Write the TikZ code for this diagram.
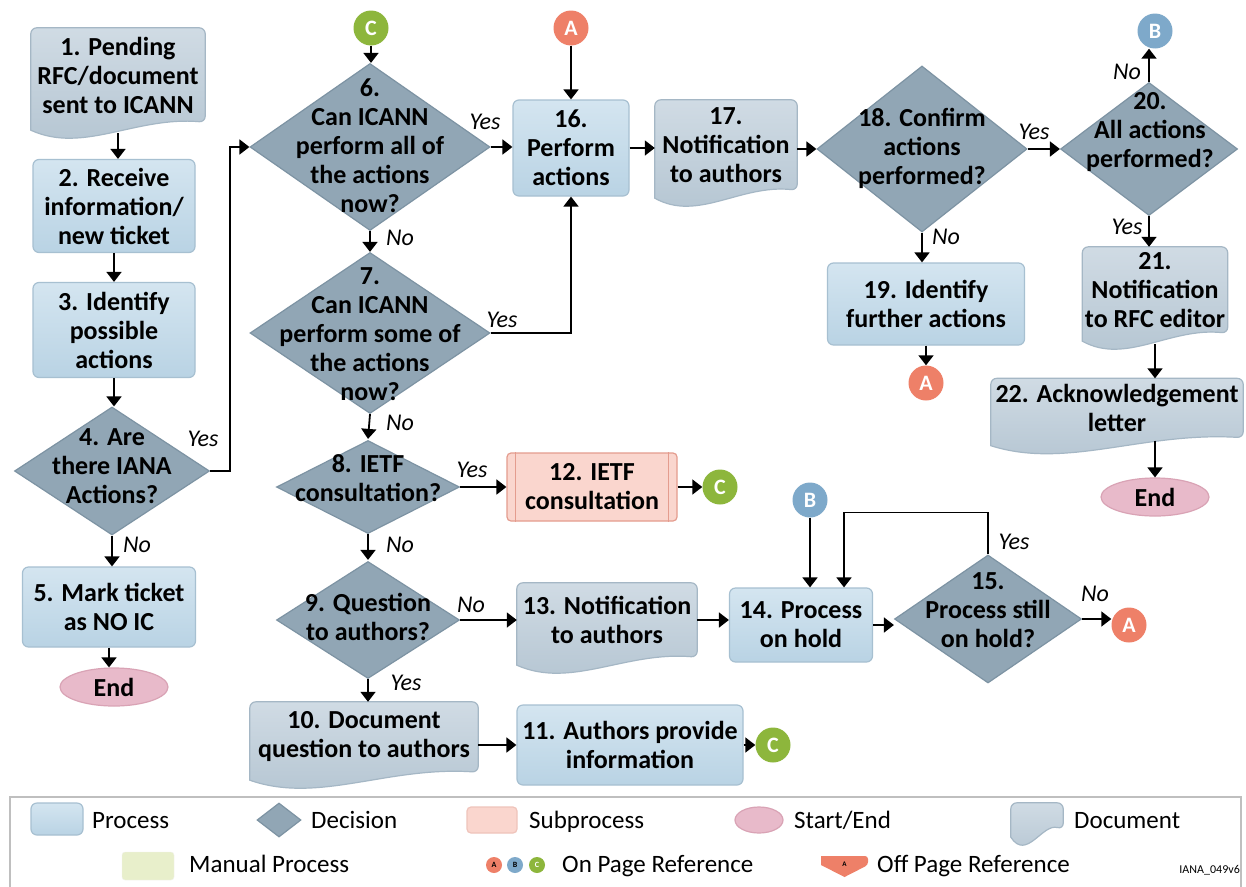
\documentclass[tikz,border=0pt]{standalone}
\usepackage{fontspec}
\setmainfont{Carlito}
\usetikzlibrary{shapes.geometric,arrows.meta,calc}
\pgfdeclarelayer{back}
\pgfdeclarelayer{docs}
\pgfsetlayers{back,docs,main}
\definecolor{procTop}{HTML}{D4E5F0}
\definecolor{procBot}{HTML}{B9D3E4}
\definecolor{procBd}{HTML}{A7C0D1}
\definecolor{decFill}{HTML}{91A6B5}
\definecolor{decBd}{HTML}{7D93A3}
\definecolor{docTop}{HTML}{D0DBE4}
\definecolor{docBot}{HTML}{B3C4D1}
\definecolor{docBd}{HTML}{A5B7C5}
\definecolor{subFill}{HTML}{FAD6CE}
\definecolor{subBd}{HTML}{E49C8E}
\definecolor{endFill}{HTML}{E8BACA}
\definecolor{endBd}{HTML}{D9A3B5}
\definecolor{refA}{HTML}{EE8068}
\definecolor{refB}{HTML}{7EA9CA}
\definecolor{refC}{HTML}{8DB63C}
\definecolor{manFill}{HTML}{E8EFCB}
\tikzset{
  base/.style={font=\fontsize{26}{29}\selectfont\bfseries, align=center, text=black},
  proc/.style={base, rectangle, rounded corners=6pt, draw=procBd, line width=1.2pt, top color=procTop, bottom color=procBot, inner sep=2pt},
  doctext/.style={base, rectangle, inner sep=0pt},
  docshp/.style={draw=docBd, line width=1.2pt, top color=docTop, bottom color=docBot},
  dec/.style={diamond, draw=decBd, line width=1.2pt, fill=decFill, inner sep=0pt},
  dtext/.style={base, inner sep=0pt},
  subp/.style={base, rectangle, rounded corners=4pt, draw=subBd, line width=1.2pt, fill=subFill, inner sep=2pt},
  term/.style={base, ellipse, draw=endBd, line width=1.2pt, fill=endFill, inner sep=0pt},
  refnode/.style={circle, inner sep=0pt, minimum size=35pt, text=white, font=\fontsize{22}{22}\selectfont\bfseries},
  lab/.style={font=\fontsize{24}{24}\selectfont\itshape, inner sep=0pt},
  arr/.style={line width=1.8pt, -{Triangle[width=15pt,length=10pt]}},
  legt/.style={font=\fontsize{25}{25}\selectfont, anchor=base west, inner sep=0pt},
}
\newcommand\docshape[1]{%
  \begin{pgfonlayer}{docs}
  \path[docshp] let \p1=(#1.north west), \p2=(#1.south east) in
    (\x1,\y2-8pt) [rounded corners=6pt] -- (\x1,\y1) -- (\x2,\y1) -- (\x2,\y2) [sharp corners]
    .. controls ({\x1+0.6*(\x2-\x1)},\y2+6pt) and ({\x1+0.3*(\x2-\x1)},\y2-32pt) .. (\x1,\y2-8pt) -- cycle;
  \end{pgfonlayer}}
\begin{document}
\begin{tikzpicture}[x=1pt,y=-1pt]
\useasboundingbox (0,0) rectangle (1246,886);
\begin{pgfonlayer}{back}
\fill[white] (0,0) rectangle (1246,886);
\end{pgfonlayer}

% ---------- column 1
\node[doctext, minimum width=174pt, minimum height=94pt] (n1) at (118,75) {1. Pending\\RFC/document\\sent to ICANN};
\docshape{n1}
\node[proc, minimum width=162pt, minimum height=93pt] (n2) at (114,206) {2. Receive\\information/\\new ticket};
\node[proc, minimum width=162pt, minimum height=95pt] (n3) at (114,330) {3. Identify\\possible\\actions};
\node[dec, minimum width=195pt, minimum height=128pt] (q4) at (112,471) {};
\node[dtext] (t4) at (112,466) {4. Are\\there IANA\\Actions?};
\node[proc, minimum width=173pt, minimum height=80pt] (n5) at (109,607) {5. Mark ticket\\as NO IC};
\node[term, minimum width=108pt, minimum height=38pt] (e1) at (114,687) {End};

% ---------- column 2
\node[refnode, fill=refC] (c1) at (371,28) {C};
\node[dec, minimum width=240pt, minimum height=167pt] (q6) at (370,147) {};
\node[dtext] (t6) at (370,146) {6.\\Can ICANN\\perform all of\\the actions\\now?};
\node[dec, minimum width=240pt, minimum height=161pt] (q7) at (370,333) {};
\node[dtext] (t7) at (370,334) {7.\\Can ICANN\\perform some of\\the actions\\now?};
\node[dec, minimum width=183pt, minimum height=93pt] (q8) at (368,487) {};
\node[dtext] (t8) at (368,478) {8. IETF\\consultation?};
\node[dec, minimum width=183pt, minimum height=117pt] (q9) at (368,620) {};
\node[dtext] (t9) at (368,617) {9. Question\\to authors?};
\node[doctext, minimum width=228pt, minimum height=70pt] (n10) at (364,737) {10. Document\\question to authors};
\docshape{n10}

% ---------- column 3
\node[refnode, fill=refA] (a1) at (571,28) {A};
\node[proc, minimum width=116pt, minimum height=96pt] (n16) at (571,148) {16.\\Perform\\actions};
\node[subp, minimum width=170pt, minimum height=68pt] (n12) at (592,487) {12. IETF\\consultation};
\draw[subBd, line width=1pt] ([xshift=9pt]n12.north west) -- ([xshift=9pt]n12.south west);
\draw[subBd, line width=1pt] ([xshift=-9pt]n12.north east) -- ([xshift=-9pt]n12.south east);
\node[refnode, fill=refC] (c2) at (720,487) {C};
\node[doctext, minimum width=180pt, minimum height=74pt] (n13) at (607,620) {13. Notification\\to authors};
\docshape{n13}
\node[proc, minimum width=226pt, minimum height=80pt] (n11) at (630,745) {11. Authors provide\\information};
\node[refnode, fill=refC] (c3) at (773,745) {C};

% ---------- column 4
\node[doctext, minimum width=142pt, minimum height=90pt] (n17) at (726,145) {17.\\Notification\\to authors};
\docshape{n17}
\node[refnode, fill=refB] (b2) at (810,500) {B};
\node[proc, minimum width=143pt, minimum height=74pt] (n14) at (801,625) {14. Process\\on hold};
\node[dec, minimum width=187pt, minimum height=128pt] (q15) at (988,619) {};
\node[dtext] (t15) at (988,610) {15.\\Process still\\on hold?};
\node[refnode, fill=refA] (a3) at (1129,625) {A};
\node[dec, minimum width=210pt, minimum height=166pt] (q18) at (922,149) {};
\node[dtext] (t18) at (922,148) {18. Confirm\\actions\\performed?};
\node[proc, minimum width=197pt, minimum height=82pt] (n19) at (926,304) {19. Identify\\further actions};
\node[refnode, fill=refA] (a2) at (926,383) {A};

% ---------- column 5
\node[refnode, fill=refB] (b1) at (1155,31) {B};
\node[dec, minimum width=177pt, minimum height=133pt] (q20) at (1149,149) {};
\node[dtext] (t20) at (1150,132) {20.\\All actions\\performed?};
\node[doctext, minimum width=145pt, minimum height=86pt] (n21) at (1155,290) {21.\\Notification\\to RFC editor};
\docshape{n21}
\node[doctext, minimum width=252pt, minimum height=59pt] (n22) at (1117,408) {22. Acknowledgement\\letter};
\docshape{n22}
\node[term, minimum width=108pt, minimum height=38pt] (e2) at (1155,497) {End};

% ---------- connectors
\draw[arr, shorten <=11pt] (n1.south) -- (n1.south |- n2.north);
\draw[arr] (n2.south) -- (n3.north);
\draw[arr] (n3.south) -- (n3.south |- q4.north);
\draw[arr] (q4.east) -- ++(20,0) |- (q6.west);
\draw[arr] (q4.south) -- (q4.south |- n5.north);
\draw[arr] (n5.south) -- (n5.south |- e1.north);
\draw[arr] (c1.south) -- (c1.south |- q6.north);
\draw[arr] (q6.east) -- (q6.east -| n16.west);
\draw[arr] (q6.south) -- (q7.north);
\draw[arr] (q7.east) -| (n16.south);
\draw[arr] (q7.south) -- ([yshift=1pt]q8.north);
\draw[arr] (q8.east) -- (q8.east -| n12.west);
\draw[arr] (n12.east) -- (c2.west);
\draw[arr] (q8.south) -- ([yshift=1pt]q9.north);
\draw[arr] (q9.east) -- (q9.east -| n13.west);
\draw[arr] (q9.south) -- (q9.south |- n10.north);
\draw[arr] (n11.west -| n10.east) -- (n11.west);
\draw[arr] (n11.east) -- (c3.west);
\draw[arr] (n13.east) -- (n13.east -| n14.west);
\draw[arr] (n14.east) -- (n14.east -| q15.west);
\draw[arr] (q15.north) -- ++(0,-42) -| ([xshift=43pt]n14.north);
\draw[arr] (b2.south) -- (b2.south |- n14.north);
\draw[arr] (q15.east) -- (q15.east -| a3.west);
\draw[arr] (a1.south) -- (n16.north);
\draw[arr] (n16.east) -- (n16.east -| n17.west);
\draw[arr] (q18.west -| n17.east) -- (q18.west);
\draw[arr] (q18.east) -- (q18.east -| q20.west);
\draw[arr] (q18.south) -- (q18.south |- n19.north);
\draw[arr] (n19.south) -- (n19.south |- a2.north);
\draw[arr] (q20.north) -- (q20.north |- b1.south);
\draw[arr] (q20.south) -- (q20.south |- n21.north);
\draw[arr, shorten <=11pt] (n21.south) -- (n21.south |- n22.north);
\draw[arr, shorten <=3pt] (e2.north |- n22.south) -- (e2.north);

% ---------- labels
\node[lab] (l1) at (203,439) {Yes};
\node[lab] (l2) at (137,545) {No};
\node[lab] (l3) at (485,122) {Yes};
\node[lab] (l4) at (400,238) {No};
\node[lab] (l5) at (502,320) {Yes};
\node[lab] (l6) at (400,423) {No};
\node[lab] (l7) at (472,470) {Yes};
\node[lab] (l8) at (400,545) {No};
\node[lab] (l9) at (471,605) {No};
\node[lab] (l10) at (406,683) {Yes};
\node[lab] (l11) at (1014,542) {Yes};
\node[lab] (l12) at (1095,594) {No};
\node[lab] (l13) at (1034,132) {Yes};
\node[lab] (l14) at (946,237) {No};
\node[lab] (l15) at (1127,72) {No};
\node[lab] (l16) at (1127,227) {Yes};

% ---------- legend
\draw[black!25, line width=1.5pt] (10,797) rectangle (1241,892);
\node[proc, minimum width=52pt, minimum height=32pt] (lg1) at (57,819) {};
\node[legt] (lg1t) at (92,828) {Process};
\node[dec, minimum width=44pt, minimum height=34pt] (lg2) at (279,820) {};
\node[legt] (lg2t) at (311,828) {Decision};
\node[subp, draw=subBd!60, minimum width=50pt, minimum height=26pt] (lg3) at (492,820) {};
\node[legt] (lg3t) at (529,828) {Subprocess};
\node[term, minimum width=48pt, minimum height=26pt] (lg4) at (759,820) {};
\node[legt] (lg4t) at (794,828) {Start/End};
\node[doctext, minimum width=52pt, minimum height=26pt] (lg5) at (1037,816) {};
\docshape{lg5}
\node[legt] (lg5t) at (1074,828) {Document};
\node[rectangle, rounded corners=3pt, fill=manFill, draw=manFill!80!black!20, minimum width=52pt, minimum height=28pt] (lg6) at (148,866) {};
\node[legt] (lg6t) at (189,872) {Manual Process};
\node[circle, fill=refA, minimum size=16pt, inner sep=0pt, font=\fontsize{8}{8}\selectfont\bfseries] (lg7) at (494,865) {A};
\node[circle, fill=refB, minimum size=16pt, inner sep=0pt, font=\fontsize{8}{8}\selectfont\bfseries] (lg8) at (515,865) {B};
\node[circle, fill=refC, minimum size=16pt, inner sep=0pt, font=\fontsize{8}{8}\selectfont\bfseries, text=white] (lg9) at (537,865) {C};
\node[legt] (lg9t) at (562,872) {On Page Reference};
\fill[refA] (821,856) [rounded corners=3pt] -- (868,856) -- (868,865) [sharp corners] -- (844.5,877) -- (821,865) -- cycle;
\node[font=\fontsize{7}{7}\selectfont\bfseries, inner sep=0pt] (lg10) at (844.5,864) {A};
\node[legt] (lg10t) at (877,872) {Off Page Reference};
\node[font=\fontsize{12}{12}\selectfont, inner sep=0pt, anchor=east] (lg11) at (1240,870) {IANA\_049v6};
\end{tikzpicture}
\end{document}
